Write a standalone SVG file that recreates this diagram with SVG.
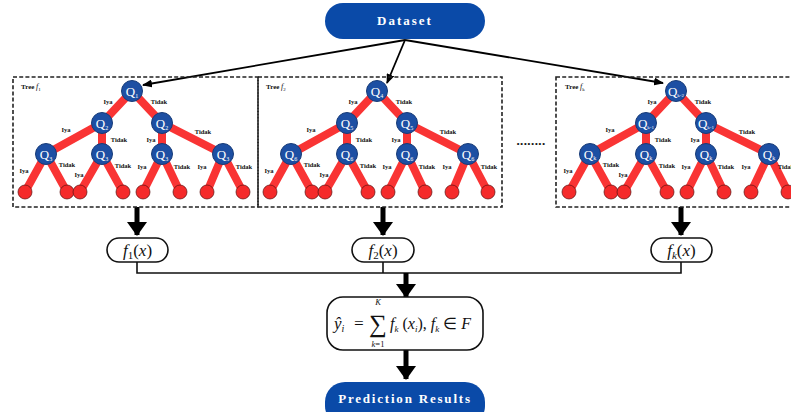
<svg xmlns="http://www.w3.org/2000/svg" width="791" height="412" viewBox="0 0 791 412">
<defs>
<style>
.pill{fill:#0a4aa8}
.pilltxt{fill:#fff;font-family:"Liberation Serif",serif;font-weight:bold;font-size:13px;text-anchor:middle}
.box{fill:none;stroke:#222;stroke-width:1.6;stroke-dasharray:4 2.2}
.edge{stroke:#f93434;stroke-width:8}
.leaf{fill:#f52a2a;stroke:#5a1010;stroke-width:0.7}
.q{fill:#1d4fa3;stroke:#173b78;stroke-width:1}
.qt{fill:#fff;font-family:"Liberation Serif",serif;font-size:13px;text-anchor:middle}
.lb{fill:#111;font-family:"Liberation Serif",serif;font-weight:bold;font-size:6.5px;text-anchor:middle}
.tl{fill:#111;font-family:"Liberation Serif",serif;font-weight:bold;font-size:7px}
.fbox{fill:#fff;stroke:#111;stroke-width:1.6}
.math{fill:#111;font-family:"Liberation Serif",serif;font-style:italic}
.conn{fill:none;stroke:#111;stroke-width:1.6}
.thin{fill:none;stroke:#000;stroke-width:1.8}
.thick{fill:none;stroke:#000;stroke-width:5}
</style>
<marker id="ah" markerUnits="userSpaceOnUse" markerWidth="10" markerHeight="8" refX="9" refY="4" orient="auto">
<path d="M0,0 L10,4 L0,8 Z" fill="#000"/>
</marker>
<marker id="big" markerUnits="userSpaceOnUse" markerWidth="14" markerHeight="20" refX="13" refY="10" orient="auto">
<path d="M0,0 L14,10 L0,20 Z" fill="#000"/>
</marker>
</defs>
<rect width="791" height="412" fill="#fff"/>

<g id="connectors">
<line class="thin" x1="405" y1="40" x2="143" y2="85" marker-end="url(#ah)"/>
<line class="thin" x1="405" y1="40" x2="387" y2="83" marker-end="url(#ah)"/>
<line class="thin" x1="405" y1="40" x2="663" y2="83" marker-end="url(#ah)"/>
<line class="thick" x1="137" y1="207" x2="137" y2="235" marker-end="url(#big)"/>
<line class="thick" x1="383" y1="207" x2="383" y2="235" marker-end="url(#big)"/>
<line class="thick" x1="681" y1="207" x2="681" y2="235" marker-end="url(#big)"/>
<path class="conn" d="M137,262 V273 H681 V262 M383,262 V273"/>
<line class="thick" x1="406" y1="273" x2="406" y2="297" marker-end="url(#big)"/>
<line class="thick" x1="406" y1="350" x2="406" y2="379" marker-end="url(#big)"/>
</g>

<g id="dataset">
<rect class="pill" x="325" y="3" width="160" height="36" rx="18"/>
<text class="pilltxt" x="405" y="25" letter-spacing="2">Dataset</text>
</g>

<g id="tree1">
<rect class="box" x="13" y="77" width="245" height="130"/>
<text class="tl" x="21" y="89">Tree <tspan font-style="italic" font-weight="normal" font-size="8">f</tspan><tspan font-size="5" font-weight="normal" dy="1.5">1</tspan></text>
<g>
<path class="edge" d="M132,91 L102,123 M132,91 L162,123 M102,123 L46,154 M102,123 L102,154 M162,123 L162,154 M162,123 L223,154 M46,154 L25,192 M46,154 L67,192 M102,154 L80,192 M102,154 L123,192 M162,154 L143,192 M162,154 L180,192 M223,154 L207,192 M223,154 L243,192"/>
<circle class="leaf" cx="25" cy="192" r="7"/><circle class="leaf" cx="67" cy="192" r="7"/>
<circle class="leaf" cx="80" cy="192" r="7"/><circle class="leaf" cx="123" cy="192" r="7"/>
<circle class="leaf" cx="143" cy="192" r="7"/><circle class="leaf" cx="180" cy="192" r="7"/>
<circle class="leaf" cx="207" cy="192" r="7"/><circle class="leaf" cx="243" cy="192" r="7"/>
</g>
<g id="t1q1"><circle class="q" cx="132" cy="91" r="10.5"/><text class="qt" x="132" y="96">Q<tspan font-size="6" dy="2">1</tspan></text></g>
<g id="t1q2a"><circle class="q" cx="102" cy="123" r="10.5"/><text class="qt" x="102" y="128">Q<tspan font-size="6" dy="2">2</tspan></text></g>
<g id="t1q2b"><circle class="q" cx="162" cy="123" r="10.5"/><text class="qt" x="162" y="128">Q<tspan font-size="6" dy="2">2</tspan></text></g>
<g id="t1q3a"><circle class="q" cx="46" cy="154" r="10.5"/><text class="qt" x="46" y="159">Q<tspan font-size="6" dy="2">3</tspan></text></g>
<g id="t1q3b"><circle class="q" cx="102" cy="154" r="10.5"/><text class="qt" x="102" y="159">Q<tspan font-size="6" dy="2">3</tspan></text></g>
<g id="t1q3c"><circle class="q" cx="162" cy="154" r="10.5"/><text class="qt" x="162" y="159">Q<tspan font-size="6" dy="2">3</tspan></text></g>
<g id="t1q3d"><circle class="q" cx="223" cy="154" r="10.5"/><text class="qt" x="223" y="159">Q<tspan font-size="6" dy="2">3</tspan></text></g>
<g>
<text class="lb" x="108" y="104">Iya</text><text class="lb" x="159" y="104">Tidak</text>
<text class="lb" x="66" y="132">Iya</text><text class="lb" x="119" y="142">Tidak</text>
<text class="lb" x="151" y="142">Iya</text><text class="lb" x="203" y="134">Tidak</text>
<text class="lb" x="24" y="173">Iya</text><text class="lb" x="67" y="167">Tidak</text>
<text class="lb" x="79" y="177">Iya</text><text class="lb" x="123" y="168">Tidak</text>
<text class="lb" x="142" y="169">Iya</text><text class="lb" x="182" y="169">Tidak</text>
<text class="lb" x="202" y="169">Iya</text><text class="lb" x="244" y="169">Tidak</text>
</g>
</g>

<g id="tree2">
<rect class="box" x="258" y="77" width="244" height="130"/>
<g transform="translate(245,0)">
<text class="tl" x="21" y="89">Tree <tspan font-style="italic" font-weight="normal" font-size="8">f</tspan><tspan font-size="5" font-weight="normal" dy="1.5">2</tspan></text>
<path class="edge" d="M132,91 L102,123 M132,91 L162,123 M102,123 L46,154 M102,123 L102,154 M162,123 L162,154 M162,123 L223,154 M46,154 L25,192 M46,154 L67,192 M102,154 L80,192 M102,154 L123,192 M162,154 L143,192 M162,154 L180,192 M223,154 L207,192 M223,154 L243,192"/>
<circle class="leaf" cx="25" cy="192" r="7"/><circle class="leaf" cx="67" cy="192" r="7"/>
<circle class="leaf" cx="80" cy="192" r="7"/><circle class="leaf" cx="123" cy="192" r="7"/>
<circle class="leaf" cx="143" cy="192" r="7"/><circle class="leaf" cx="180" cy="192" r="7"/>
<circle class="leaf" cx="207" cy="192" r="7"/><circle class="leaf" cx="243" cy="192" r="7"/>
<g id="t2q4"><circle class="q" cx="132" cy="91" r="10.5"/><text class="qt" x="132" y="96">Q<tspan font-size="6" dy="2">4</tspan></text></g>
<g id="t2q5a"><circle class="q" cx="102" cy="123" r="10.5"/><text class="qt" x="102" y="128">Q<tspan font-size="6" dy="2">5</tspan></text></g>
<g id="t2q5b"><circle class="q" cx="162" cy="123" r="10.5"/><text class="qt" x="162" y="128">Q<tspan font-size="6" dy="2">5</tspan></text></g>
<g id="t2q6a"><circle class="q" cx="46" cy="154" r="10.5"/><text class="qt" x="46" y="159">Q<tspan font-size="6" dy="2">6</tspan></text></g>
<g id="t2q6b"><circle class="q" cx="102" cy="154" r="10.5"/><text class="qt" x="102" y="159">Q<tspan font-size="6" dy="2">6</tspan></text></g>
<g id="t2q6c"><circle class="q" cx="162" cy="154" r="10.5"/><text class="qt" x="162" y="159">Q<tspan font-size="6" dy="2">6</tspan></text></g>
<g id="t2q6d"><circle class="q" cx="223" cy="154" r="10.5"/><text class="qt" x="223" y="159">Q<tspan font-size="6" dy="2">6</tspan></text></g>
<text class="lb" x="108" y="104">Iya</text><text class="lb" x="159" y="104">Tidak</text>
<text class="lb" x="66" y="132">Iya</text><text class="lb" x="119" y="142">Tidak</text>
<text class="lb" x="151" y="142">Iya</text><text class="lb" x="203" y="134">Tidak</text>
<text class="lb" x="24" y="173">Iya</text><text class="lb" x="67" y="167">Tidak</text>
<text class="lb" x="79" y="177">Iya</text><text class="lb" x="123" y="168">Tidak</text>
<text class="lb" x="142" y="169">Iya</text><text class="lb" x="182" y="169">Tidak</text>
<text class="lb" x="202" y="169">Iya</text><text class="lb" x="244" y="169">Tidak</text>
</g>
</g>

<g id="dots">
<text x="531" y="145" font-family="Liberation Serif, serif" font-weight="bold" font-size="13" text-anchor="middle" letter-spacing="0.4" fill="#111">........</text>
</g>

<g id="treek">
<rect class="box" x="556" y="77" width="250" height="130"/>
<g transform="translate(544,0)">
<text class="tl" x="21" y="89">Tree <tspan font-style="italic" font-weight="normal" font-size="8">f</tspan><tspan font-size="5" font-weight="normal" dy="1.5">k</tspan></text>
<path class="edge" d="M132,91 L102,123 M132,91 L162,123 M102,123 L46,154 M102,123 L102,154 M162,123 L162,154 M162,123 L225,154 M46,154 L25,192 M46,154 L67,192 M102,154 L80,192 M102,154 L123,192 M162,154 L143,192 M162,154 L180,192 M225,154 L207,192 M225,154 L244,192"/>
<circle class="leaf" cx="25" cy="192" r="7"/><circle class="leaf" cx="67" cy="192" r="7"/>
<circle class="leaf" cx="80" cy="192" r="7"/><circle class="leaf" cx="123" cy="192" r="7"/>
<circle class="leaf" cx="143" cy="192" r="7"/><circle class="leaf" cx="180" cy="192" r="7"/>
<circle class="leaf" cx="207" cy="192" r="7"/><circle class="leaf" cx="244" cy="192" r="7"/>
<g id="tkqk2"><circle class="q" cx="132" cy="91" r="10.5"/><text class="qt" x="132" y="96">Q<tspan font-size="5" dy="1">k-2</tspan></text></g>
<g id="tkqk1a"><circle class="q" cx="102" cy="123" r="10.5"/><text class="qt" x="102" y="128">Q<tspan font-size="5" dy="1">k-1</tspan></text></g>
<g id="tkqk1b"><circle class="q" cx="162" cy="123" r="10.5"/><text class="qt" x="162" y="128">Q<tspan font-size="5" dy="1">k-1</tspan></text></g>
<g id="tkqka"><circle class="q" cx="46" cy="154" r="10.5"/><text class="qt" x="46" y="159">Q<tspan font-size="6" dy="1">k</tspan></text></g>
<g id="tkqkb"><circle class="q" cx="102" cy="154" r="10.5"/><text class="qt" x="102" y="159">Q<tspan font-size="6" dy="1">k</tspan></text></g>
<g id="tkqkc"><circle class="q" cx="162" cy="154" r="10.5"/><text class="qt" x="162" y="159">Q<tspan font-size="6" dy="1">k</tspan></text></g>
<g id="tkqkd"><circle class="q" cx="225" cy="154" r="10.5"/><text class="qt" x="225" y="159">Q<tspan font-size="6" dy="1">k</tspan></text></g>
<text class="lb" x="108" y="104">Iya</text><text class="lb" x="159" y="104">Tidak</text>
<text class="lb" x="66" y="132">Iya</text><text class="lb" x="119" y="142">Tidak</text>
<text class="lb" x="151" y="142">Iya</text><text class="lb" x="203" y="134">Tidak</text>
<text class="lb" x="24" y="173">Iya</text><text class="lb" x="67" y="167">Tidak</text>
<text class="lb" x="79" y="177">Iya</text><text class="lb" x="123" y="168">Tidak</text>
<text class="lb" x="142" y="169">Iya</text><text class="lb" x="182" y="169">Tidak</text>
<text class="lb" x="202" y="169">Iya</text><text class="lb" x="242" y="169">Tidak</text>
</g>
</g>

<g id="f1">
<rect class="fbox" x="107" y="238" width="61" height="24" rx="12"/>
<text class="math" x="137.5" y="256" font-size="17" text-anchor="middle">f<tspan font-style="normal" font-size="11" dy="3">1</tspan><tspan font-style="normal" dy="-3">(</tspan>x<tspan font-style="normal">)</tspan></text>
</g>
<g id="f2">
<rect class="fbox" x="352" y="238" width="62" height="24" rx="12"/>
<text class="math" x="383" y="256" font-size="17" text-anchor="middle">f<tspan font-style="normal" font-size="11" dy="3">2</tspan><tspan font-style="normal" dy="-3">(</tspan>x<tspan font-style="normal">)</tspan></text>
</g>
<g id="fk">
<rect class="fbox" x="651" y="238" width="61" height="24" rx="12"/>
<text class="math" x="681.5" y="256" font-size="17" text-anchor="middle">f<tspan font-size="11" dy="3">k</tspan><tspan font-style="normal" dy="-3">(</tspan>x<tspan font-style="normal">)</tspan></text>
</g>

<g id="formula">
<rect class="fbox" x="327" y="297" width="156" height="53" rx="16"/>
<text class="math" x="334" y="329" font-size="17">ŷ<tspan font-size="10" dy="3">i</tspan></text>
<text class="math" x="353" y="329" font-size="17" font-style="normal">=</text>
<text class="math" x="378" y="332" font-size="25" font-style="normal" text-anchor="middle">∑</text>
<text class="math" x="378" y="305" font-size="8.5" text-anchor="middle">K</text>
<text class="math" x="378" y="347" font-size="8.5" text-anchor="middle">k<tspan font-style="normal">=1</tspan></text>
<text class="math" x="390" y="329" font-size="16">f<tspan font-size="9" dy="3">k</tspan><tspan font-style="normal" dy="-3"> (</tspan>x<tspan font-size="9" dy="3">i</tspan><tspan font-style="normal" dy="-3">), </tspan>f<tspan font-size="9" dy="3">k</tspan><tspan font-style="normal" dy="-3"> ∈ </tspan>F</text>
</g>

<g id="prediction">
<rect class="pill" x="325" y="382" width="160" height="44" rx="20"/>
<text class="pilltxt" x="405" y="403" letter-spacing="1.8">Prediction Results</text>
</g>
</svg>
